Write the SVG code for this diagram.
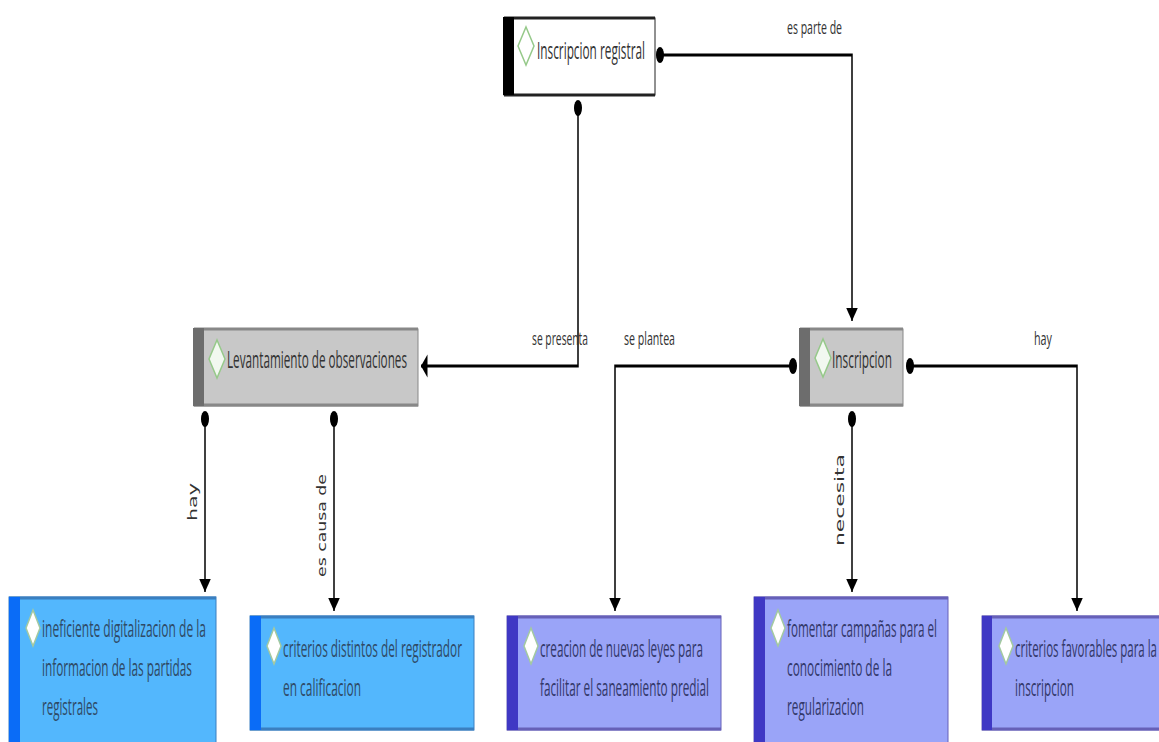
<svg xmlns="http://www.w3.org/2000/svg" width="1159" height="742" viewBox="0 0 1159 742">
<defs>
<marker id="arrow" markerUnits="userSpaceOnUse" markerWidth="14" markerHeight="24" refX="13" refY="12" orient="auto"><path d="M0 0.500L13 12L0 23.500Z" fill="#000"/></marker>
<marker id="dot" markerUnits="userSpaceOnUse" markerWidth="18" markerHeight="18" refX="9" refY="9"><circle cx="9" cy="9" r="8" fill="#000"/></marker>
</defs>
<style>
text{font-family:"Open Sans","Noto Sans","Liberation Sans",sans-serif;font-size:24px;fill:#333}
.n{fill:#2f4a66}
.p{fill:#33386a}
.l{font-size:18px;fill:#333}
.v{font-family:"DejaVu Sans",sans-serif;font-size:13px;fill:#333}
.c{fill:none;stroke:#000;stroke-width:3;marker-start:url(#dot);marker-end:url(#arrow)}
.e{fill:none;stroke-width:3}
.s{stroke-width:1}
.w{fill:#fff;stroke:#a3c9a0;stroke-width:1.500}
.g{fill:#f2f8f0;stroke:#96c98a;stroke-width:1.500}
</style>
<rect width="1159" height="742" fill="#fff"/>
<g id="connectors">
<g transform="scale(.5,1)">
<path class="c" d="M1320 55H1704V321"/>
<path class="c" d="M1156 108V366H842"/>
<path class="c" d="M410 419V592"/>
<path class="c" d="M668 419V611"/>
<path class="c" d="M1586 366H1230V611"/>
<path class="c" d="M1704 419V592"/>
<path class="c" d="M1820 366H2154V611"/>
</g>
<text class="l" x="787" y="34" textLength="55" lengthAdjust="spacingAndGlyphs">es parte de</text>
<text class="l" x="532" y="345" textLength="56" lengthAdjust="spacingAndGlyphs">se presenta</text>
<text class="l" x="624" y="345" textLength="51" lengthAdjust="spacingAndGlyphs">se plantea</text>
<text class="l" x="1034" y="345" textLength="18" lengthAdjust="spacingAndGlyphs">hay</text>
<text class="v" transform="translate(197,521) rotate(-90)" textLength="38" lengthAdjust="spacingAndGlyphs">hay</text>
<text class="v" transform="translate(326,577) rotate(-90)" textLength="103" lengthAdjust="spacingAndGlyphs">es causa de</text>
<text class="v" transform="translate(844,546) rotate(-90)" textLength="92" lengthAdjust="spacingAndGlyphs">necesita</text>
</g>
<g id="node-inscripcion-registral">
<rect x="504" y="18" width="151" height="77" fill="#fff" stroke="#222" class="s"/>
<path class="e" stroke="#222" d="M504 18H655M504 95H655"/>
<rect x="503" y="17" width="11" height="78" fill="#000"/>
<path class="g" d="M526 27L534 46L526 65L518 46Z" style="fill:#fff"/>
<text x="537" y="59" textLength="108" lengthAdjust="spacingAndGlyphs">Inscripcion registral</text>
</g>
<g id="node-levantamiento">
<rect x="194" y="329" width="224" height="77" fill="#c8c8c8" stroke="#888" class="s"/>
<path class="e" stroke="#888" d="M194 329H418M194 405H418"/>
<rect x="193" y="328" width="11" height="78" fill="#6d6d6d"/>
<path class="g" d="M217 340L225 359L217 378L209 359Z"/>
<text x="227" y="368" textLength="180" lengthAdjust="spacingAndGlyphs">Levantamiento de observaciones</text>
</g>
<g id="node-inscripcion">
<rect x="800" y="329" width="103" height="77" fill="#c8c8c8" stroke="#888" class="s"/>
<path class="e" stroke="#888" d="M800 329H903M800 405H903"/>
<rect x="799" y="328" width="11" height="78" fill="#6d6d6d"/>
<path class="g" d="M823 339L831 358L823 377L815 358Z"/>
<text x="832" y="368" textLength="60" lengthAdjust="spacingAndGlyphs">Inscripcion</text>
</g>
<g id="node-ineficiente">
<rect x="9" y="597" width="207" height="150" fill="#53b7fd" stroke="#3a7fc0" class="s"/>
<path class="e" stroke="#3a7fc0" d="M9 598H216"/>
<rect x="9" y="597" width="11" height="150" fill="#0a6cf7"/>
<path class="w" d="M33 610L40 628L33 646L26 628Z"/>
<text class="n" x="42" y="637" textLength="164" lengthAdjust="spacingAndGlyphs">ineficiente digitalizacion de la</text>
<text class="n" x="42" y="676" textLength="150" lengthAdjust="spacingAndGlyphs">informacion de las partidas</text>
<text class="n" x="42" y="715" textLength="56" lengthAdjust="spacingAndGlyphs">registrales</text>
</g>
<g id="node-criterios-distintos">
<rect x="250" y="616" width="224" height="114" fill="#53b7fd" stroke="#3a7fc0" class="s"/>
<path class="e" stroke="#3a7fc0" d="M250 617H474M250 729H474"/>
<rect x="250" y="616" width="11" height="114" fill="#0a6cf7"/>
<path class="w" d="M274 628L281 646L274 664L267 646Z"/>
<text class="n" x="283" y="657" textLength="179" lengthAdjust="spacingAndGlyphs">criterios distintos del registrador</text>
<text class="n" x="283" y="696" textLength="78" lengthAdjust="spacingAndGlyphs">en calificacion</text>
</g>
<g id="node-creacion">
<rect x="507" y="616" width="214" height="114" fill="#9aa4f8" stroke="#6660b8" class="s"/>
<path class="e" stroke="#6660b8" d="M507 617H721M507 729H721"/>
<rect x="507" y="616" width="11" height="114" fill="#3f38c4"/>
<path class="w" d="M531 628L538 646L531 664L524 646Z"/>
<text class="p" x="540" y="657" textLength="163" lengthAdjust="spacingAndGlyphs">creacion de nuevas leyes para</text>
<text class="p" x="540" y="696" textLength="169" lengthAdjust="spacingAndGlyphs">facilitar el saneamiento predial</text>
</g>
<g id="node-fomentar">
<rect x="754" y="597" width="194" height="150" fill="#9aa4f8" stroke="#6660b8" class="s"/>
<path class="e" stroke="#6660b8" d="M754 598H948"/>
<rect x="754" y="597" width="11" height="150" fill="#3f38c4"/>
<path class="w" d="M778 610L785 628L778 646L771 628Z"/>
<text class="p" x="787" y="637" textLength="150" lengthAdjust="spacingAndGlyphs">fomentar campañas para el</text>
<text class="p" x="787" y="676" textLength="105" lengthAdjust="spacingAndGlyphs">conocimiento de la</text>
<text class="p" x="787" y="715" textLength="77" lengthAdjust="spacingAndGlyphs">regularizacion</text>
</g>
<g id="node-criterios-favorables">
<rect x="982" y="616" width="190" height="114" fill="#9aa4f8" stroke="#6660b8" class="s"/>
<path class="e" stroke="#6660b8" d="M982 617H1172M982 729H1172"/>
<rect x="982" y="616" width="10" height="114" fill="#3f38c4"/>
<path class="w" d="M1006 628L1013 646L1006 664L999 646Z"/>
<text class="p" x="1015" y="657" textLength="142" lengthAdjust="spacingAndGlyphs">criterios favorables para la</text>
<text class="p" x="1015" y="696" textLength="59" lengthAdjust="spacingAndGlyphs">inscripcion</text>
</g>
</svg>
